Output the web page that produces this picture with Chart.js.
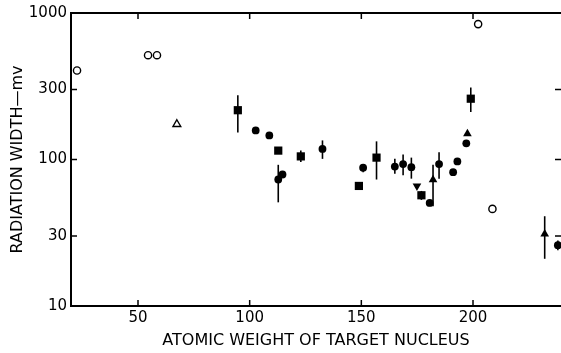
<!DOCTYPE html>
<html lang="en">
<head>
  <meta charset="UTF-8">
  <title>Radiation Width vs Atomic Weight</title>
  <script src="https://cdn.jsdelivr.net/npm/chart.js"></script>
  <style>
    html, body { margin: 0; padding: 0; background: #fff; }
    canvas { display: block; }
  </style>
</head>
<body>
  <canvas id="widthChart" width="561" height="353"></canvas>
  <script>
    // points are [atomic weight, radiation width in mv]
    const openCircles = [[22.7, 405], [54.5, 515], [58.5, 515], [202.3, 840], [208.7, 46]];
    const openTriangles = [[67.4, 174]];
    const filledSquares = [[94.7, 217], [112.8, 115], [122.9, 105], [148.9, 66], [156.8, 103], [176.9, 57], [199, 260]];
    const filledCircles = [[102.7, 158], [108.8, 146], [112.8, 73], [114.7, 79], [132.6, 118], [150.8, 88],
      [165, 89.5], [168.7, 93], [172.4, 88.6], [180.6, 50.5], [184.8, 93], [191.1, 82], [193, 97], [197, 129], [238, 26]];
    const filledTriangles = [[182.1, 72.6], [197.5, 150], [232.1, 31]];
    const invertedTriangles = [[174.9, 66]];

    // [atomic weight, low, high]
    const errorBars = [[94.7, 153, 274], [112.8, 51, 92], [122.9, 96, 115], [132.6, 101, 135], [150.8, 82, 93],
      [156.8, 73, 133], [165, 80, 101], [168.7, 78, 108], [172.4, 74, 103], [176.9, 53, 61], [180.6, 48, 53],
      [182.1, 48, 92], [184.8, 74, 112], [199, 211, 310], [232.1, 21, 41], [238, 24, 28]];

    const xTicks = [50, 100, 150, 200];
    const yTicks = [10, 30, 100, 300, 1000];

    const FONT = 'DejaVu Sans';
    const toXY = arr => arr.map(p => ({ x: p[0], y: p[1] }));

    function series(data, style, filled, radius, rotation) {
      return {
        data: toXY(data),
        pointStyle: style,
        pointRadius: radius,
        pointRotation: rotation || 0,
        pointBackgroundColor: filled ? '#000' : '#fff',
        pointBorderColor: '#000',
        pointBorderWidth: filled ? 0 : 1.4,
        showLine: false
      };
    }

    // vertical error lines, drawn under the markers
    const errorPlugin = {
      id: 'errors',
      beforeDatasetsDraw(chart) {
        const { ctx, scales: { x, y } } = chart;
        ctx.save();
        ctx.strokeStyle = '#000';
        ctx.lineWidth = 1.6;
        errorBars.forEach(([xv, lo, hi]) => {
          const px = x.getPixelForValue(xv);
          ctx.beginPath();
          ctx.moveTo(px, y.getPixelForValue(lo));
          ctx.lineTo(px, y.getPixelForValue(hi));
          ctx.stroke();
        });
        ctx.restore();
      }
    };

    // top border and inward tick marks on all sides
    const framePlugin = {
      id: 'frame',
      afterDraw(chart) {
        const { ctx, chartArea: a, scales: { x, y } } = chart;
        ctx.save();
        ctx.strokeStyle = '#000';
        ctx.lineWidth = 2;
        ctx.beginPath();
        ctx.moveTo(a.left, a.top);
        ctx.lineTo(a.right, a.top);
        ctx.stroke();
        ctx.lineWidth = 1.5;
        ctx.beginPath();
        xTicks.forEach(v => {
          const px = x.getPixelForValue(v);
          ctx.moveTo(px, a.bottom); ctx.lineTo(px, a.bottom - 6);
          ctx.moveTo(px, a.top); ctx.lineTo(px, a.top + 6);
        });
        yTicks.forEach(v => {
          const py = y.getPixelForValue(v);
          ctx.moveTo(a.left, py); ctx.lineTo(a.left + 6, py);
          ctx.moveTo(a.right, py); ctx.lineTo(a.right - 6, py);
        });
        ctx.stroke();
        ctx.restore();
      }
    };

    new Chart(document.getElementById('widthChart').getContext('2d'), {
      type: 'scatter',
      data: {
        datasets: [
          series(openCircles, 'circle', false, 3.6),
          series(openTriangles, 'triangle', false, 4.5),
          series(filledSquares, 'rect', true, 5.8),
          series(filledCircles, 'circle', true, 3.9),
          series(filledTriangles, 'triangle', true, 5),
          series(invertedTriangles, 'triangle', true, 5, 180)
        ]
      },
      options: {
        responsive: false,
        animation: false,
        layout: { autoPadding: false, padding: { top: 13, right: 0, left: 0, bottom: 0 } },
        plugins: { legend: { display: false }, tooltip: { enabled: false } },
        scales: {
          x: {
            type: 'linear',
            min: 20,
            max: 239.4,
            afterBuildTicks: s => { s.ticks = xTicks.map(v => ({ value: v })); },
            afterFit: s => { s.height = 47; },
            grid: { display: false, drawTicks: false },
            border: { display: true, color: '#000', width: 2 },
            ticks: { color: '#000', font: { family: FONT, size: 15 }, padding: 3, maxRotation: 0 },
            title: {
              display: true,
              text: 'ATOMIC WEIGHT OF TARGET NUCLEUS',
              color: '#000',
              font: { family: FONT, size: 16 },
              padding: { top: 0, bottom: 3 }
            }
          },
          y: {
            type: 'logarithmic',
            min: 10,
            max: 1000,
            afterBuildTicks: s => { s.ticks = yTicks.map(v => ({ value: v })); },
            afterFit: s => { s.width = 71; },
            grid: { display: false, drawTicks: false },
            border: { display: true, color: '#000', width: 2 },
            ticks: { color: '#000', font: { family: FONT, size: 15 }, padding: 4, callback: v => String(v) },
            title: {
              display: true,
              text: 'RADIATION WIDTH\u2014mv',
              color: '#000',
              font: { family: FONT, size: 16 },
              padding: { top: 8, bottom: 0 }
            }
          }
        }
      },
      plugins: [errorPlugin, framePlugin]
    });
  </script>
</body>
</html>
